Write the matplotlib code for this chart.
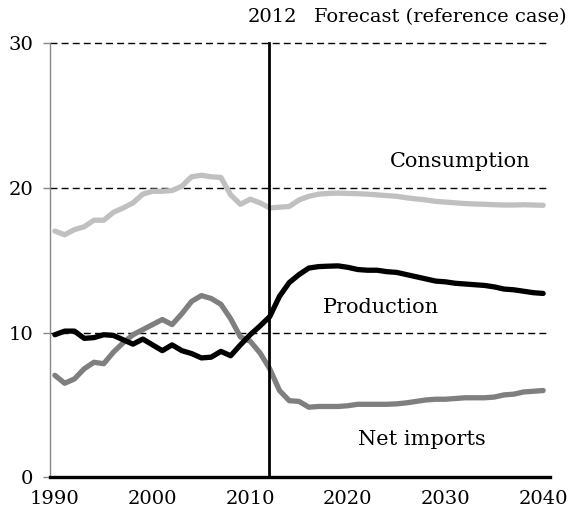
import matplotlib
matplotlib.use("Agg")
import matplotlib.pyplot as plt
import numpy as np

plt.rcParams["font.family"] = ["DejaVu Serif"]

years = np.arange(1990, 2041)

consumption = [
    17.0, 16.75, 17.1, 17.3, 17.75, 17.75, 18.3, 18.6, 18.95, 19.55,
    19.75, 19.75, 19.8, 20.1, 20.75, 20.85, 20.75, 20.7, 19.5, 18.85,
    19.2, 18.95, 18.6, 18.65, 18.7, 19.15, 19.4, 19.55, 19.6, 19.62,
    19.6, 19.58, 19.55, 19.5, 19.45, 19.4, 19.3, 19.22, 19.15, 19.05,
    19.0, 18.95, 18.9, 18.87, 18.85, 18.82, 18.8, 18.8, 18.82, 18.8, 18.78,
]
production = [
    9.85, 10.1, 10.1, 9.6, 9.65, 9.85, 9.8, 9.5, 9.2, 9.55,
    9.15, 8.75, 9.15, 8.75, 8.55, 8.25, 8.3, 8.7, 8.4, 9.15,
    9.85, 10.45, 11.1, 12.5, 13.45, 14.0, 14.45, 14.55, 14.58, 14.6,
    14.5, 14.35, 14.3, 14.3, 14.2, 14.15, 14.0, 13.85, 13.7, 13.55,
    13.5, 13.4, 13.35, 13.3, 13.25, 13.15, 13.0, 12.95, 12.85, 12.75, 12.7,
]
net_imports = [
    7.05, 6.5, 6.8, 7.5, 7.95, 7.85, 8.65, 9.3, 9.85, 10.2,
    10.55, 10.9, 10.55, 11.3, 12.15, 12.55, 12.35, 11.95, 10.95, 9.7,
    9.4, 8.6, 7.5, 6.0, 5.3, 5.25, 4.85, 4.9, 4.9, 4.9,
    4.95, 5.05, 5.05, 5.05, 5.05, 5.08, 5.15, 5.25, 5.35, 5.4,
    5.4, 5.45, 5.5, 5.5, 5.5, 5.55, 5.7, 5.75, 5.9, 5.95, 6.0,
]

forecast_year = 2012
xticks = [1990, 2000, 2010, 2020, 2030, 2040]
yticks = [0, 10, 20, 30]

fig = plt.figure(figsize=(5.69, 5.18), dpi=100)
ax = fig.add_axes([0.0879, 0.0782, 0.8787, 0.8394])

# gridlines
for v in [10, 20, 30]:
    ax.axhline(v, color="black", linestyle=(0, (5, 3)), linewidth=1.0, zorder=1, clip_on=False)

ax.plot(years, consumption, color="#c0c0c0", linewidth=3.8, solid_capstyle="round",
        solid_joinstyle="round", zorder=3)
ax.plot(years, net_imports, color="#7f7f7f", linewidth=3.8, solid_capstyle="round",
        solid_joinstyle="round", zorder=3)
ax.plot(years, production, color="black", linewidth=3.8, solid_capstyle="round",
        solid_joinstyle="round", zorder=4)

ax.axvline(forecast_year - 0.1, color="black", linewidth=2.0, zorder=5, clip_on=False)

ax.set_xlim(1989.5, 2040.7)
ax.set_ylim(0, 30)
ax.set_xticks(xticks)
ax.set_yticks(yticks)
ax.tick_params(axis="x", length=0, pad=9, labelsize=14)
ax.tick_params(axis="y", length=5, color="#888888", width=1, pad=7, labelsize=14)

for s in ["top", "right"]:
    ax.spines[s].set_visible(False)
ax.spines["left"].set_color("#888888")
ax.spines["left"].set_linewidth(1.0)
ax.spines["bottom"].set_color("black")
ax.spines["bottom"].set_linewidth(2.4)
ax.spines["bottom"].set_zorder(6)

ax.text(272 / 569, 1 - 17 / 518, "2012", ha="center", va="center", fontsize=14,
        transform=fig.transFigure)
ax.text(566 / 569, 1 - 17 / 518, "Forecast (reference case)", ha="right", va="center",
        fontsize=14, transform=fig.transFigure)
ax.text(2031.5, 21.8, "Consumption", ha="center", va="center", fontsize=15)
ax.text(2023.4, 11.7, "Production", ha="center", va="center", fontsize=15)
ax.text(2027.6, 2.6, "Net imports", ha="center", va="center", fontsize=15)

fig.savefig("out.png", dpi=100)
